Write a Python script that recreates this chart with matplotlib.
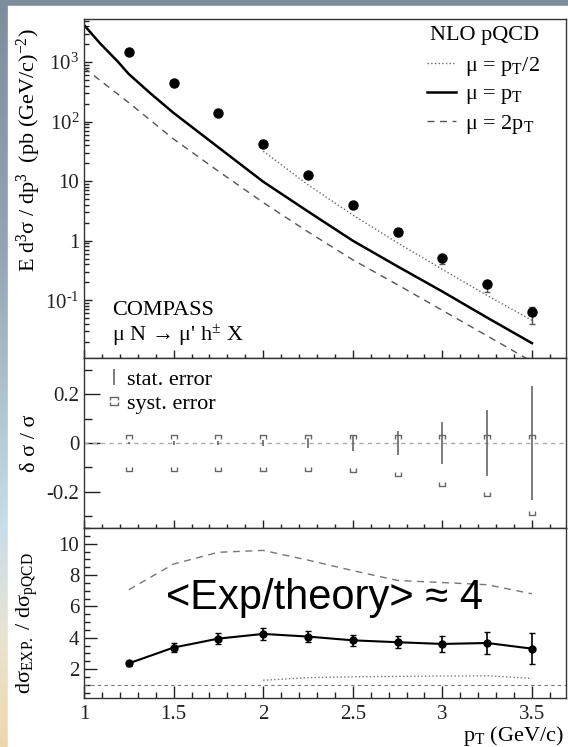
import numpy as np
import matplotlib
matplotlib.use("Agg")
import matplotlib.pyplot as plt
from matplotlib.lines import Line2D
from matplotlib.path import Path
from matplotlib.ticker import MultipleLocator, FixedLocator, LogLocator, NullFormatter

plt.rcParams['font.family'] = ['Liberation Serif', 'DejaVu Serif']
plt.rcParams['mathtext.fontset'] = 'custom'
plt.rcParams['mathtext.rm'] = 'Liberation Serif'
plt.rcParams['mathtext.it'] = 'Liberation Serif:italic'
plt.rcParams['mathtext.default'] = 'rm'
plt.rcParams['axes.unicode_minus'] = False

# measured cross section (pb (GeV/c)^-2)
pt = [1.25, 1.5, 1.75, 2.0, 2.25, 2.5, 2.75, 3.0, 3.25, 3.5]
xsec = [1470, 444, 139, 41.9, 12.6, 3.95, 1.39, 0.508, 0.186, 0.063]
# relative errors
stat_rel = [0.005, 0.007, 0.01, 0.014, 0.021, 0.032, 0.05, 0.085, 0.135, 0.235]
syst_up = [0.025, 0.025, 0.025, 0.025, 0.025, 0.025, 0.025, 0.025, 0.025, 0.025]
syst_lo = [-0.105, -0.105, -0.105, -0.105, -0.107, -0.11, -0.128, -0.17, -0.21, -0.29]

# NLO pQCD curves
pt_mu1 = [1.0, 1.09, 1.19, 1.25, 1.37, 1.5, 1.75, 2.0, 2.25, 2.5, 2.75, 3.0, 3.25, 3.5]
nlo_mu1 = [4200, 2060, 1010, 630, 300, 140, 37, 9.8, 3.1, 1.0, 0.37, 0.14, 0.051, 0.019]
pt_mu2 = [1.0, 1.25, 1.5, 1.75, 2.0, 2.25, 2.5, 2.75, 3.0, 3.25, 3.5]
nlo_mu2 = [800, 208, 51, 14.7, 4.38, 1.41, 0.477, 0.182, 0.0676, 0.0252, 0.0093]
pt_half = [2.0, 2.25, 2.5, 2.75, 3.0, 3.25, 3.5]
nlo_half = [32, 8.7, 2.7, 0.92, 0.33, 0.12, 0.046]

# data / theory
ratio = [2.36, 3.37, 3.94, 4.24, 4.07, 3.83, 3.71, 3.6, 3.66, 3.3]
ratio_err = [0.15, 0.3, 0.33, 0.38, 0.35, 0.37, 0.4, 0.51, 0.73, 0.99]
ratio_mu2 = [7.06, 8.7, 9.45, 9.57, 8.95, 8.28, 7.65, 7.52, 7.38, 6.8]
ratio_half = [1.28, 1.45, 1.5, 1.53, 1.55, 1.57, 1.4]

fig = plt.figure(figsize=(5.68, 7.47), dpi=100)

# slide background: gradient strip on the left, white page
bg = fig.add_axes([0, 0, 1, 1], zorder=-10)
stops = np.array([0.0, 0.35, 0.7, 0.85, 1.0])
cols = np.array([[125, 141, 156], [150, 166, 182], [200, 220, 235],
                 [232, 228, 210], [240, 215, 172]]) / 255
yy = np.linspace(0, 1, 300)
grad = np.stack([np.interp(yy, stops, cols[:, i]) for i in range(3)], axis=1)
bg.imshow(grad[:, None, :], aspect='auto', extent=[0, 1, 0, 1])
bg.add_patch(plt.Rectangle((8 / 568, 0), 1, 1 - 6 / 747, color='white'))
bg.set_xlim(0, 1)
bg.set_ylim(0, 1)
bg.axis('off')

L, W = 84 / 568, 482 / 568
ax1 = fig.add_axes([L, 1 - 358 / 747, W, 339 / 747])
ax2 = fig.add_axes([L, 1 - 528 / 747, W, 170 / 747])
ax3 = fig.add_axes([L, 1 - 698 / 747, W, 170 / 747])

for ax in (ax1, ax2, ax3):
    ax.set_xlim(1, 3.69)
    ax.xaxis.set_major_locator(MultipleLocator(0.5))
    ax.xaxis.set_minor_locator(MultipleLocator(0.1))
    ax.tick_params(which='both', direction='in', top=False, right=False,
                   labelsize=15, colors='#222', width=1)
    for s in ax.spines.values():
        s.set_color('#333')
        s.set_linewidth(1)

# ---- top panel
xs = np.array(xsec)
st = np.array(stat_rel)
err_hi = xs * np.sqrt(st ** 2 + np.array(syst_up) ** 2)
err_lo = xs * np.sqrt(st ** 2 + np.array(syst_lo) ** 2)

h_half, = ax1.plot(pt_half, nlo_half, ls=':', color='#666', lw=1)
h_mu1, = ax1.plot(pt_mu1, nlo_mu1, color='black', lw=1.8)
h_mu2, = ax1.plot(pt_mu2, nlo_mu2, color='#555', lw=1, dashes=(5, 4))
ax1.errorbar(pt, xsec, yerr=[err_lo, err_hi], fmt='o', color='black', ms=6.5,
             ecolor='#555', elinewidth=1, capsize=2)
ax1.set_yscale('log')
ax1.set_ylim(0.0107, 5300)
ax1.yaxis.set_major_locator(FixedLocator([0.1, 1, 10, 100, 1000]))
ax1.set_yticklabels(['10$^{\\text{-}1}$', '1', '10', '10$^{2}$', '10$^{3}$'])
ax1.yaxis.set_minor_locator(LogLocator(base=10, subs=np.arange(2, 10)))
ax1.yaxis.set_minor_formatter(NullFormatter())
ax1.tick_params(axis='y', which='major', length=6)
ax1.tick_params(axis='y', which='minor', length=3.5)
ax1.tick_params(axis='x', which='major', length=6)
ax1.tick_params(axis='x', which='minor', length=3)
ax1.tick_params(labelbottom=False)
ax1.set_ylabel(r'E d$^{3}$σ / dp$^{3}$  (pb (GeV/c)$^{-2}$)', fontsize=16,
               ha='right')
ax1.yaxis.set_label_coords(-0.085, 0.973)

ax1.text(0.945, 0.952, 'NLO pQCD', transform=ax1.transAxes, fontsize=16,
         ha='right', va='center')
ax1.legend([h_half, h_mu1, h_mu2],
           [r'μ = p$_{\mathrm{T}}$/2', r'μ = p$_{\mathrm{T}}$', r'μ = 2p$_{\mathrm{T}}$'],
           fontsize=16, frameon=False,
           loc='upper right', bbox_to_anchor=(0.945, 0.895), handlelength=1.3,
           handletextpad=0.4, labelspacing=0.28, borderpad=0,
           borderaxespad=0)

ax1.text(0.058, 0.127, 'COMPASS', transform=ax1.transAxes, fontsize=16)
ax1.text(0.058, 0.051, r"μ N → μ' h$^{\pm}$ X", transform=ax1.transAxes,
         fontsize=16)

# ---- middle panel: relative errors
ax2.axhline(0, color='#aaa', lw=1, dashes=(3, 3))
ax2.errorbar(pt, np.zeros(len(pt)), yerr=stat_rel, fmt='none', ecolor='#666',
             elinewidth=1.2, capsize=0)
cap_up = Path([(-1, -0.45), (-1, 0.45), (1, 0.45), (1, -0.45)],
              [Path.MOVETO, Path.LINETO, Path.LINETO, Path.LINETO])
cap_dn = Path([(-1, 0.45), (-1, -0.45), (1, -0.45), (1, 0.45)],
              [Path.MOVETO, Path.LINETO, Path.LINETO, Path.LINETO])
ax2.plot(pt, syst_up, ls='none', marker=cap_up, ms=5, mfc='none', mec='#666', mew=1)
ax2.plot(pt, syst_lo, ls='none', marker=cap_dn, ms=5, mfc='none', mec='#666', mew=1)
ax2.set_ylim(-0.35, 0.35)
ax2.yaxis.set_major_locator(FixedLocator([-0.2, 0, 0.2]))
ax2.set_yticklabels(['-0.2', '0', '0.2'])
ax2.yaxis.set_minor_locator(MultipleLocator(0.1))
ax2.tick_params(axis='y', which='major', length=11.5)
ax2.tick_params(axis='y', which='minor', length=6)
ax2.tick_params(axis='x', which='major', length=6)
ax2.tick_params(axis='x', which='minor', length=3)
ax2.tick_params(labelbottom=False)
ax2.set_ylabel('δ σ / σ', fontsize=16)
ax2.yaxis.set_label_coords(-0.092, 0.5)

both = Path([(-1, 0.25), (-1, 1), (1, 1), (1, 0.25), (-1, -0.25), (-1, -1), (1, -1), (1, -0.25)],
            [Path.MOVETO, Path.LINETO, Path.LINETO, Path.LINETO,
             Path.MOVETO, Path.LINETO, Path.LINETO, Path.LINETO])
h_stat = Line2D([], [], ls='none', marker='|', ms=11, mec='#666', mew=1.2)
h_syst = Line2D([], [], ls='none', marker=both, ms=6, mfc='none', mec='#666', mew=1)
ax2.legend([h_stat, h_syst], ['stat. error', 'syst. error'], fontsize=16,
           frameon=False, loc='upper left', bbox_to_anchor=(0.03, 0.985),
           handlelength=0.6, handletextpad=0.3, labelspacing=0.15,
           borderaxespad=0.0)

# ---- bottom panel: data / theory
ax3.axhline(1, color='#777', lw=0.8, dashes=(3, 3))
ax3.plot(pt, ratio_mu2, color='#777', lw=1, dashes=(5, 4))
ax3.plot(pt_half, ratio_half, color='#777', lw=1, ls=':')
ax3.errorbar(pt, ratio, yerr=ratio_err, fmt='-o', color='black', ms=5, lw=1.5,
             elinewidth=1.2, capsize=2)
ax3.set_ylim(0.15, 11.0)
ax3.yaxis.set_major_locator(FixedLocator([2, 4, 6, 8, 10]))
ax3.set_yticklabels(['2', '4', '6', '8', '10'])
ax3.yaxis.set_minor_locator(MultipleLocator(0.5))
ax3.tick_params(axis='y', which='major', length=9)
ax3.tick_params(axis='y', which='minor', length=4.5)
ax3.tick_params(axis='x', which='major', length=9)
ax3.tick_params(axis='x', which='minor', length=4.5)
ax3.xaxis.set_major_locator(FixedLocator([1, 1.5, 2, 2.5, 3, 3.5]))
ax3.set_xticklabels(['1', '1.5', '2', '2.5', '3', '3.5'])
ax3.tick_params(axis='x', pad=5)
ax3.set_ylabel(r'dσ$_{\mathrm{EXP.}}$ / dσ$_{\mathrm{pQCD}}$', fontsize=16)
ax3.yaxis.set_label_coords(-0.092, 0.44)
ax3.set_xlabel(r'p$_{\mathrm{T}}$ (GeV/c)', fontsize=16, loc='right')
ax3.xaxis.set_label_coords(0.996, -0.155)
ax3.xaxis.label.set_va('top')

ax3.text(1.458, 5.84, '<Exp/theory> ≈ 4', fontsize=30,
         family=['Liberation Sans', 'DejaVu Sans'], va='baseline')

fig.savefig('out.png', dpi=100)
